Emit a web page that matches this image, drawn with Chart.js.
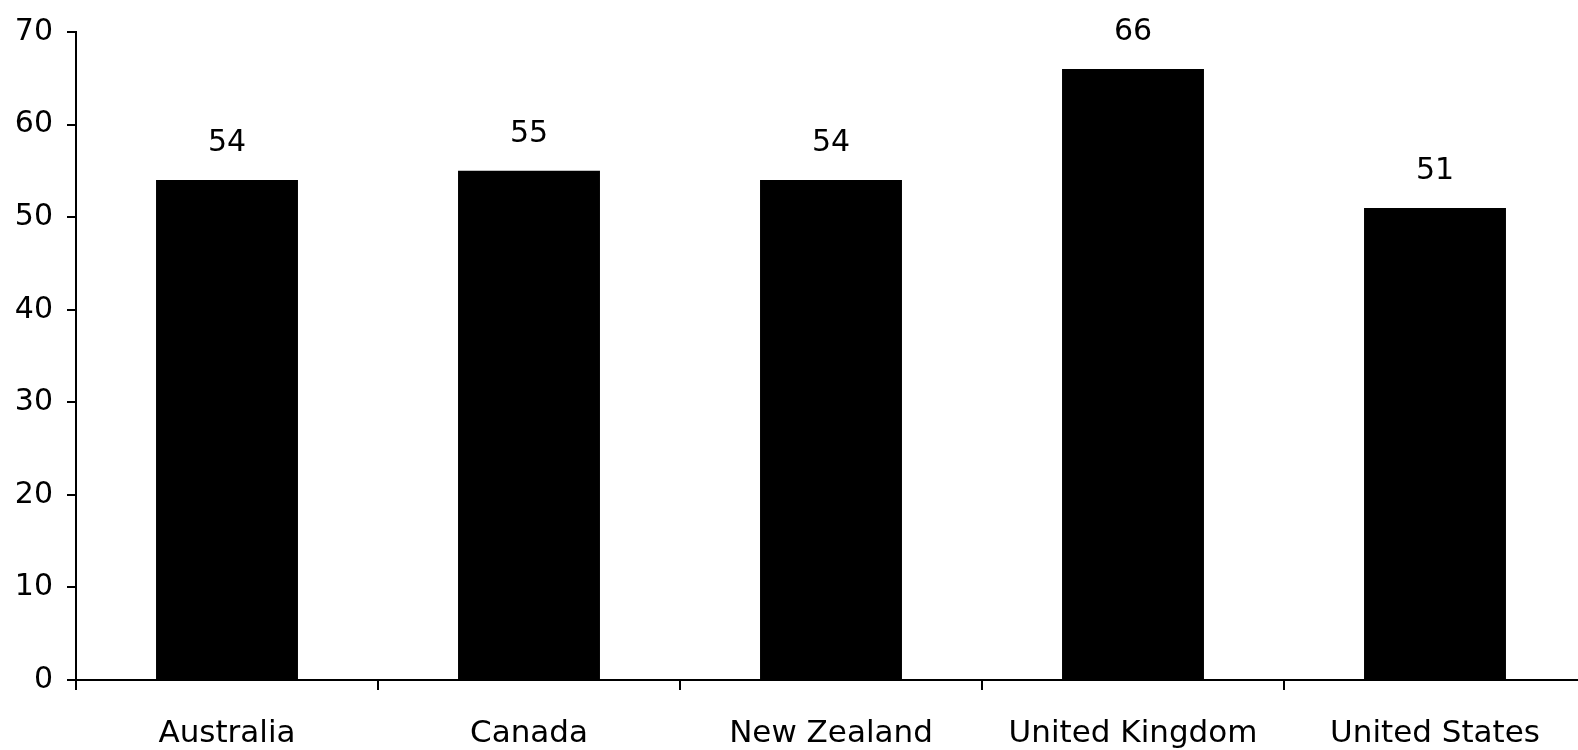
<!DOCTYPE html>
<html>
<head>
<meta charset="utf-8">
<script src="https://cdn.jsdelivr.net/npm/chart.js@4/dist/chart.umd.min.js"></script>
<style>
  html, body { margin: 0; padding: 0; background: #fff; overflow: hidden; }
  #wrap { width: 1590px; height: 750px; }
</style>
</head>
<body>
<div id="wrap"><canvas id="chart" width="1590" height="750"></canvas></div>
<script>
const countries = ['Australia', 'Canada', 'New Zealand', 'United Kingdom', 'United States'];
const shares = [54, 55, 54, 66, 51];
const yTicks = [0, 10, 20, 30, 40, 50, 60, 70];

const FONT = '"DejaVu Sans", sans-serif';

// Writes each bar's value above it
const valueLabels = {
  id: 'valueLabels',
  afterDatasetsDraw(chart) {
    const ctx = chart.ctx;
    const meta = chart.getDatasetMeta(0);
    ctx.save();
    ctx.fillStyle = '#000';
    ctx.font = '30px ' + FONT;
    ctx.textAlign = 'center';
    ctx.textBaseline = 'alphabetic';
    meta.data.forEach((bar, i) => {
      ctx.fillText(String(chart.data.datasets[0].data[i]), bar.x, bar.y - 29);
    });
    ctx.restore();
  }
};

new Chart(document.getElementById('chart'), {
  type: 'bar',
  data: {
    labels: countries,
    datasets: [{
      data: shares,
      backgroundColor: '#000',
      borderWidth: 0,
      barPercentage: 0.47,
      categoryPercentage: 1
    }]
  },
  options: {
    responsive: false,
    animation: false,
    layout: { padding: { top: 26, right: 4, left: 0, bottom: 0 } },
    plugins: { legend: { display: false }, tooltip: { enabled: false } },
    scales: {
      x: {
        offset: true,
        grid: { display: true, offset: true, drawOnChartArea: false, drawTicks: true, tickLength: 10, color: '#000', lineWidth: 2 },
        border: { display: true, color: '#000', width: 2 },
        ticks: { color: '#000', font: { family: FONT, size: 31 }, padding: 25, maxRotation: 0, autoSkip: false },
        afterFit(scale) { scale.height = 70; }
      },
      y: {
        min: 0,
        max: 70,
        afterBuildTicks(scale) { scale.ticks = yTicks.map(v => ({ value: v })); },
        grid: { display: true, drawOnChartArea: false, drawTicks: true, tickLength: 9, color: '#000', lineWidth: 2 },
        border: { display: true, color: '#000', width: 2 },
        ticks: { color: '#000', font: { family: FONT, size: 30 }, padding: 14 },
        afterFit(scale) { scale.width = 76; }
      }
    }
  },
  plugins: [valueLabels]
});
</script>
</body>
</html>
